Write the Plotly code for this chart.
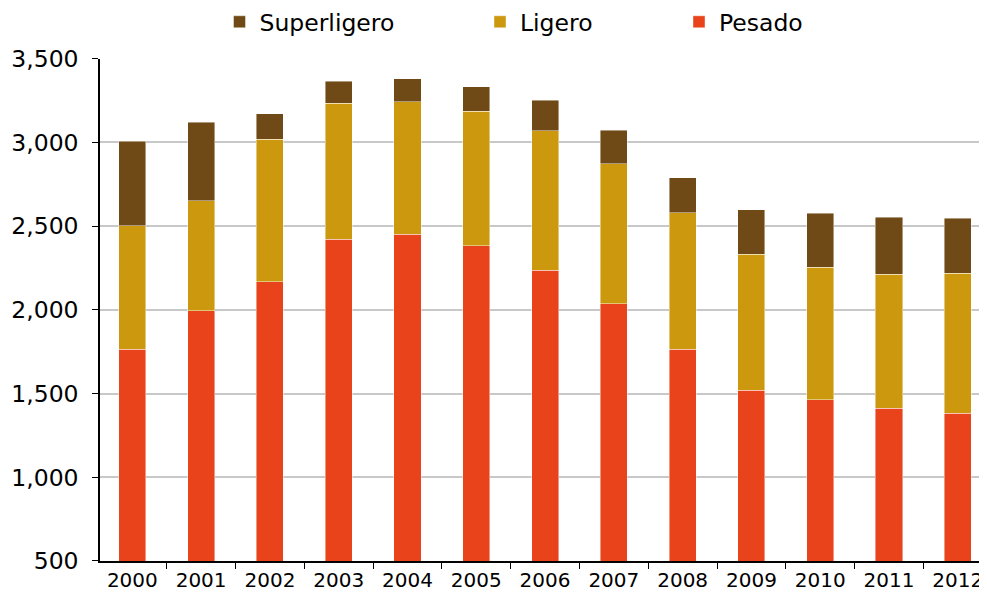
import plotly.graph_objects as go

years = ["2000", "2001", "2002", "2003", "2004", "2005", "2006", "2007", "2008", "2009", "2010", "2011", "2012"]
pesado = [1766, 1994, 2169, 2421, 2452, 2383, 2238, 2036, 1764, 1520, 1462, 1413, 1383]
ligero = [738, 659, 849, 813, 792, 804, 833, 837, 816, 811, 792, 801, 835]
superligero = [504, 468, 155, 133, 138, 145, 181, 201, 210, 268, 322, 338, 328]

FONT = "DejaVu Sans"
line = dict(width=0.8, color="rgba(255,255,255,0.55)")

# page has an 8px body margin; compensate so the figure fills the 987x600 window
W, H, OFF = 979, 592, 8

fig = go.Figure()
fig.add_trace(go.Bar(x=years, y=pesado, name="Pesado", marker=dict(color="#E8431A", line=line),
                     legend="legend3"))
fig.add_trace(go.Bar(x=years, y=ligero, name="Ligero", marker=dict(color="#CC980E", line=line),
                     legend="legend2"))
fig.add_trace(go.Bar(x=years, y=superligero, name="Superligero", marker=dict(color="#6F4A16", line=line),
                     legend="legend"))

legfont = dict(family=FONT, size=23.5, color="#000000")
def leg(px):
    return dict(x=(px - OFF) / W, xref="container", xanchor="left",
                y=1 - (22 - OFF) / H, yref="container",
                yanchor="middle", orientation="h", font=legfont, bgcolor="rgba(0,0,0,0)")

fig.update_layout(
    width=W, height=H,
    margin=dict(l=100 - OFF, r=1, t=57 - OFF, b=39),
    paper_bgcolor="white", plot_bgcolor="white",
    barmode="stack", bargap=0.607,
    showlegend=True,
    legend=leg(219.5),
    legend2=leg(480),
    legend3=leg(679),
    xaxis=dict(
        type="category", range=[-0.47, 12.41],
        showline=True, linecolor="black", linewidth=1.5,
        ticks="outside", tickson="boundaries", ticklen=6, tickcolor="black", tickwidth=1.3,
        showgrid=False,
        tickfont=dict(family=FONT, size=20, color="black"),
    ),
    yaxis=dict(
        range=[500, 3500], tickvals=[500, 1000, 1500, 2000, 2500, 3000, 3500],
        tickformat=",",
        showline=True, linecolor="black", linewidth=1.5,
        ticks="outside", ticklen=6, tickcolor="black", tickwidth=1.3,
        showgrid=True, gridcolor="#C8C8C8", gridwidth=1.6,
        zeroline=False,
        ticklabelstandoff=9,
        tickfont=dict(family=FONT, size=23.5, color="black"),
    ),
)

fig.write_html("out.html")
